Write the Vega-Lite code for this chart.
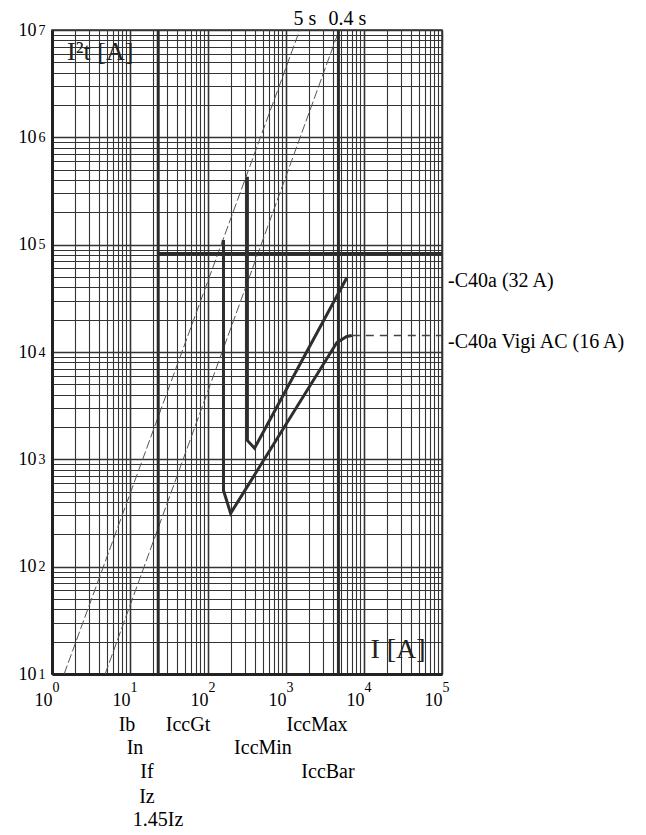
{
  "$schema": "https://vega.github.io/schema/vega-lite/v6.json",
  "width": 390,
  "height": 644,
  "autosize": {"type": "none"},
  "padding": {"left": 52, "top": 30, "right": 204, "bottom": 161},
  "background": "white",
  "config": {
    "view": {"stroke": "#333333", "strokeWidth": 1.5},
    "font": "Liberation Serif",
    "axis": {"labelFont": "Liberation Serif", "labelColor": "black"}
  },
  "datasets": {
    "ref": [
      {"s": "5 s", "I": 1.43, "v": 10},
      {"s": "5 s", "I": 1500, "v": 10000000},
      {"s": "0.4 s", "I": 4.8, "v": 10},
      {"s": "0.4 s", "I": 4800, "v": 10000000}
    ],
    "curves": [
      {"s": "C40a (32 A)", "I": 320, "v": 430000},
      {"s": "C40a (32 A)", "I": 320, "v": 1500},
      {"s": "C40a (32 A)", "I": 395, "v": 1270},
      {"s": "C40a (32 A)", "I": 6040, "v": 49400},
      {"s": "C40a Vigi AC (16 A)", "I": 150, "v": 107000},
      {"s": "C40a Vigi AC (16 A)", "I": 158, "v": 107000},
      {"s": "C40a Vigi AC (16 A)", "I": 158, "v": 513},
      {"s": "C40a Vigi AC (16 A)", "I": 195, "v": 314},
      {"s": "C40a Vigi AC (16 A)", "I": 4490, "v": 12240},
      {"s": "C40a Vigi AC (16 A)", "I": 6020, "v": 13960},
      {"s": "C40a Vigi AC (16 A)", "I": 6980, "v": 14250}
    ],
    "ext": [
      {"I": 6980, "v": 14250},
      {"I": 100000, "v": 14250}
    ],
    "vlines": [
      {"name": "1.45Iz", "I": 23},
      {"name": "IccBar", "I": 4700}
    ],
    "hline": [
      {"I": 23, "I2": 100000, "v": 82656}
    ],
    "currents": [
      {"t": "Ib", "I": 9.15, "v": 3.35},
      {"t": "In", "I": 11.6, "v": 2.05},
      {"t": "If", "I": 16.5, "v": 1.22},
      {"t": "Iz", "I": 16.5, "v": 0.714},
      {"t": "1.45Iz", "I": 22.9, "v": 0.436},
      {"t": "IccGt", "I": 55.4, "v": 3.35},
      {"t": "IccMax", "I": 2500, "v": 3.35},
      {"t": "IccMin", "I": 507, "v": 2.05},
      {"t": "IccBar", "I": 3455, "v": 1.22}
    ],
    "serieslabels": [
      {"t": "-C40a (32 A)", "I": 100000, "v": 45900},
      {"t": "-C40a Vigi AC (16 A)", "I": 100000, "v": 12400}
    ],
    "timelabels": [
      {"t": "5 s", "I": 1752, "v": 12700000},
      {"t": "0.4 s", "I": 6140, "v": 12700000}
    ],
    "titles": [
      {"t": "I²t [A]", "I": 1.56, "v": 6240000, "a": "left"},
      {"t": "I [A]", "I": 27300, "v": 16.7, "a": "center"}
    ]
  },
  "resolve": {"axis": {"x": "independent", "y": "independent"}},
  "layer": [
    {
      "data": {"name": "ref"},
      "mark": {"type": "line", "color": "#555555", "strokeWidth": 1, "strokeDash": [9, 3]},
      "encoding": {
        "x": {
          "field": "I", "type": "quantitative",
          "scale": {"type": "log", "domain": [1, 100000], "nice": false},
          "axis": {
            "orient": "bottom",
            "values": [1,2,3,4,5,6,7,8,9,10,20,30,40,50,60,70,80,90,100,200,300,400,500,600,700,800,900,1000,2000,3000,4000,5000,6000,7000,8000,9000,10000,20000,30000,40000,50000,60000,70000,80000,90000,100000],
            "grid": true,
            "gridColor": "#333333",
            "gridWidth": {"condition": {"test": "indexof([1,10,100,1000,10000,100000], datum.value) >= 0", "value": 1.6}, "value": 1.1},
            "ticks": false,
            "tickSize": 0,
            "domain": true,
            "domainColor": "#222222",
            "domainWidth": 3,
            "labelExpr": "indexof([1,10,100,1000,10000,100000], datum.value) >= 0 ? '10' : ''",
            "labelAlign": "right",
            "labelDx": -5,
            "labelBaseline": "middle",
            "labelPadding": 26,
            "labelFontSize": 18,
            "labelOverlap": false,
            "labelFlush": false,
            "labelBound": false,
            "title": null
          }
        },
        "y": {
          "field": "v", "type": "quantitative",
          "scale": {"type": "log", "domain": [10, 10000000], "nice": false},
          "axis": {
            "orient": "left",
            "values": [10,20,30,40,50,60,70,80,90,100,200,300,400,500,600,700,800,900,1000,2000,3000,4000,5000,6000,7000,8000,9000,10000,20000,30000,40000,50000,60000,70000,80000,90000,100000,200000,300000,400000,500000,600000,700000,800000,900000,1000000,2000000,3000000,4000000,5000000,6000000,7000000,8000000,9000000,10000000],
            "grid": true,
            "gridColor": "#333333",
            "gridWidth": {"condition": {"test": "indexof([10,100,1000,10000,100000,1000000,10000000], datum.value) >= 0", "value": 1.6}, "value": 1.1},
            "ticks": false,
            "tickSize": 0,
            "domain": true,
            "domainColor": "#222222",
            "domainWidth": 3,
            "labelExpr": "indexof([10,100,1000,10000,100000,1000000,10000000], datum.value) >= 0 ? '10' : ''",
            "labelAlign": "right",
            "labelBaseline": "middle",
            "labelDy": 10,
            "labelPadding": 16,
            "labelFontSize": 18,
            "labelOverlap": false,
            "labelFlush": false,
            "labelBound": false,
            "title": null
          }
        },
        "detail": {"field": "s", "type": "nominal"}
      }
    },
    {
      "data": {"name": "vlines"},
      "mark": {"type": "rule", "color": "#2b2b2b", "strokeWidth": 3},
      "encoding": {
        "x": {"field": "I", "type": "quantitative", "scale": {"type": "log", "domain": [1, 100000], "nice": false}, "axis": null}
      }
    },
    {
      "data": {"name": "hline"},
      "mark": {"type": "rule", "color": "#2b2b2b", "strokeWidth": 3},
      "encoding": {
        "x": {"field": "I", "type": "quantitative", "scale": {"type": "log", "domain": [1, 100000], "nice": false}, "axis": null},
        "x2": {"field": "I2"},
        "y": {"field": "v", "type": "quantitative", "scale": {"type": "log", "domain": [10, 10000000], "nice": false}, "axis": null}
      }
    },
    {
      "data": {"name": "curves"},
      "mark": {"type": "line", "color": "#2e2e2e", "strokeWidth": 3, "strokeJoin": "miter"},
      "encoding": {
        "x": {
          "field": "I", "type": "quantitative",
          "scale": {"type": "log", "domain": [1, 100000], "nice": false},
          "axis": {
            "orient": "bottom",
            "values": [1, 10, 100, 1000, 10000, 100000],
            "grid": false,
            "ticks": false,
            "tickSize": 0,
            "domain": false,
            "labelExpr": "'' + round(log(datum.value) / LN10)",
            "labelAlign": "left",
            "labelDx": -3,
            "labelBaseline": "middle",
            "labelPadding": 13,
            "labelFontSize": 14,
            "labelOverlap": false,
            "labelFlush": false,
            "labelBound": false,
            "title": null
          }
        },
        "y": {
          "field": "v", "type": "quantitative",
          "scale": {"type": "log", "domain": [10, 10000000], "nice": false},
          "axis": {
            "orient": "left",
            "values": [10, 100, 1000, 10000, 100000, 1000000, 10000000],
            "grid": false,
            "ticks": false,
            "tickSize": 0,
            "domain": false,
            "labelExpr": "'' + round(log(datum.value) / LN10)",
            "labelAlign": "left",
            "labelBaseline": "middle",
            "labelDy": -7,
            "labelPadding": 14,
            "labelFontSize": 14,
            "labelOverlap": false,
            "labelFlush": false,
            "labelBound": false,
            "title": null
          }
        },
        "detail": {"field": "s", "type": "nominal"},
        "order": {"value": null}
      }
    },
    {
      "data": {"name": "ext"},
      "mark": {"type": "line", "color": "#444444", "strokeWidth": 1.3, "strokeDash": [8, 6]},
      "encoding": {
        "x": {"field": "I", "type": "quantitative", "scale": {"type": "log", "domain": [1, 100000], "nice": false}, "axis": null},
        "y": {"field": "v", "type": "quantitative", "scale": {"type": "log", "domain": [10, 10000000], "nice": false}, "axis": null}
      }
    },
    {
      "data": {"name": "currents"},
      "mark": {"type": "text", "font": "Liberation Serif", "fontSize": 20, "color": "black", "align": "center", "baseline": "middle"},
      "encoding": {
        "x": {"field": "I", "type": "quantitative", "scale": {"type": "log", "domain": [1, 100000], "nice": false}, "axis": null},
        "y": {"field": "v", "type": "quantitative", "scale": {"type": "log", "domain": [10, 10000000], "nice": false}, "axis": null},
        "text": {"field": "t", "type": "nominal"}
      }
    },
    {
      "data": {"name": "serieslabels"},
      "mark": {"type": "text", "font": "Liberation Serif", "fontSize": 20, "color": "black", "align": "left", "baseline": "middle", "dx": 6},
      "encoding": {
        "x": {"field": "I", "type": "quantitative", "scale": {"type": "log", "domain": [1, 100000], "nice": false}, "axis": null},
        "y": {"field": "v", "type": "quantitative", "scale": {"type": "log", "domain": [10, 10000000], "nice": false}, "axis": null},
        "text": {"field": "t", "type": "nominal"}
      }
    },
    {
      "data": {"name": "timelabels"},
      "mark": {"type": "text", "font": "Liberation Serif", "fontSize": 20, "color": "black", "align": "center", "baseline": "middle"},
      "encoding": {
        "x": {"field": "I", "type": "quantitative", "scale": {"type": "log", "domain": [1, 100000], "nice": false}, "axis": null},
        "y": {"field": "v", "type": "quantitative", "scale": {"type": "log", "domain": [10, 10000000], "nice": false}, "axis": null},
        "text": {"field": "t", "type": "nominal"}
      }
    },
    {
      "data": {"name": "titles"},
      "transform": [{"filter": "datum.a == 'left'"}],
      "mark": {"type": "text", "font": "Liberation Serif", "fontSize": 26, "color": "#222222", "align": "left", "baseline": "middle"},
      "encoding": {
        "x": {"field": "I", "type": "quantitative", "scale": {"type": "log", "domain": [1, 100000], "nice": false}, "axis": null},
        "y": {"field": "v", "type": "quantitative", "scale": {"type": "log", "domain": [10, 10000000], "nice": false}, "axis": null},
        "text": {"field": "t", "type": "nominal"}
      }
    },
    {
      "data": {"name": "titles"},
      "transform": [{"filter": "datum.a == 'center'"}],
      "mark": {"type": "text", "font": "Liberation Serif", "fontSize": 28, "color": "#222222", "align": "center", "baseline": "middle"},
      "encoding": {
        "x": {"field": "I", "type": "quantitative", "scale": {"type": "log", "domain": [1, 100000], "nice": false}, "axis": null},
        "y": {"field": "v", "type": "quantitative", "scale": {"type": "log", "domain": [10, 10000000], "nice": false}, "axis": null},
        "text": {"field": "t", "type": "nominal"}
      }
    }
  ]
}
